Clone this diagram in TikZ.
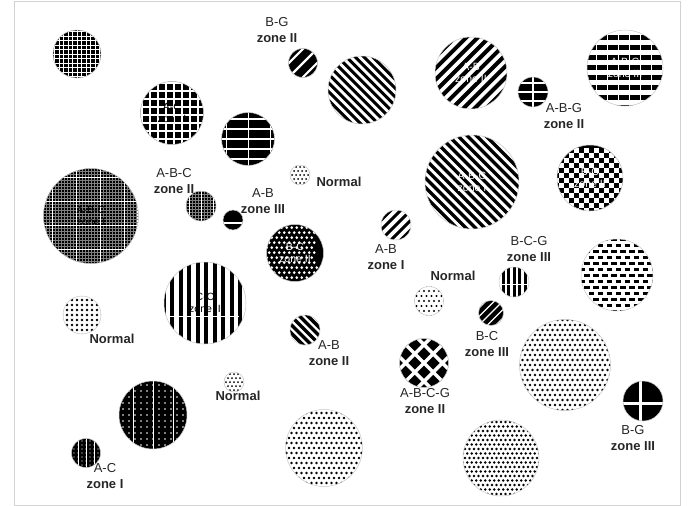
\documentclass[tikz,border=0pt]{standalone}
\usepackage{fontspec}
\setmainfont{Liberation Sans}
\newcommand\patfill[1]{\fill[#1] (-60,-60) rectangle (60,60);}
\newcommand\phor[3]{\foreach \k in {-25,...,25}{\draw[#3,line width=#2pt] (-70,{\k*#1}) -- (70,{\k*#1});}}
\newcommand\pver[3]{\foreach \k in {-25,...,25}{\draw[#3,line width=#2pt] ({\k*#1},-70) -- ({\k*#1},70);}}
\newcommand\pbsl[3]{\foreach \k in {-25,...,25}{\draw[#3,line width=#2pt] ({\k*#1*1.4142-70},-70) -- ({\k*#1*1.4142+70},70);}}
\newcommand\pfsl[3]{\foreach \k in {-25,...,25}{\draw[#3,line width=#2pt] ({\k*#1*1.4142-70},70) -- ({\k*#1*1.4142+70},-70);}}
\newcommand\patdots[5]{\foreach \a in {-#4,...,#4}{\foreach \b in {-#4,...,#4}{\fill[#3] ({(\a+#5*0.5*mod(\b,2))*#1},{\b*#1}) circle (#2pt);}}}
\newcommand\patcheck[2]{\foreach \a in {-#2,...,#2}{\foreach \b in {-#2,...,#2}{\fill[white] ({(2*\a+mod(\b,2))*#1},{\b*#1}) rectangle ++(#1,#1);}}}
\newcommand\patdash[4]{\foreach \b in {-7,...,7}{\draw[black,line width=#4pt,dash pattern=on #2pt off #3pt] (-60,{2*\b*#1}) -- (60,{2*\b*#1}); \draw[black,line width=#4pt,dash pattern=on #2pt off #3pt] ({-60+0.5*(#2+#3)},{(2*\b+1)*#1}) -- (60,{(2*\b+1)*#1});}}
\tikzset{
  disc/.style={circle, draw=gray!45, line width=0.5pt, inner sep=0pt, minimum size=#1pt, align=center, font=\fontsize{10.5}{12}\selectfont},
  pat/.style={path picture={\begin{scope}[shift={(path picture bounding box.center)}]#1\end{scope}}},
  lab/.style={align=center, inner sep=0pt, font=\fontsize{13}{16}\selectfont, text=black!85},
  wtxt/.style={text=white},
  frame/.style={draw=gray!35, line width=0.8pt}
}
\begin{document}
\begin{tikzpicture}[x=1pt,y=-1pt]
\useasboundingbox (0,0) rectangle (694,506);
\draw[frame] (14.5,1.5) rectangle (680.5,505);
% circles
\node[disc=48, pat={\patfill{black}\phor{4.5}{0.6}{white}\pver{4.5}{0.6}{white}}] (c1) at (77,54) {};
\node[disc=63, pat={\patfill{black}\phor{8}{2}{white}\pver{8}{2}{white}}] (c2) at (172,113) {A-C\\zone I};
\node[disc=53, pat={\patfill{black}\phor{10}{1.4}{white}\pver{22}{0.6}{white}}] (c3) at (248,139) {};
\node[disc=29, pat={\patfill{black}\pfsl{10}{2.2}{white}}] (c4) at (303,63) {};
\node[disc=68, pat={\patfill{white}\pbsl{6.2}{3}{black}}] (c5) at (362,90) {};
\node[disc=72, wtxt, pat={\patfill{white}\pfsl{8}{4}{black}}] (c6) at (471,73) {A-B\\zone II};
\node[disc=30, pat={\patfill{black}\phor{9}{1.2}{white}\pver{30}{1.2}{white}}] (c7) at (533,92) {};
\node[disc=76, wtxt, pat={\patfill{white}\phor{10}{5}{black}\pver{11}{0.8}{white}}] (c8) at (625,68) {A-B-C\\zone III};
\node[disc=94, wtxt, pat={\patfill{white}\pbsl{6.6}{3.4}{black}}] (c9) at (472,182) {A-B-C\\zone I};
\node[disc=66, wtxt, pat={\patfill{black}\patcheck{5}{8}}] (c10) at (590,178) {B-C\\zone II};
\node[disc=95, pat={\patfill{black}\phor{3}{0.4}{black!50}\pver{3}{0.4}{black!50}\phor{24}{0.9}{white}\pver{24}{0.9}{white}}] (c11) at (91,216) {A-B-C\\zone I};
\node[disc=30, pat={\patfill{black}\phor{3}{0.4}{black!50}\pver{3}{0.4}{black!50}\pver{12}{0.9}{white}}] (c12) at (201,206) {};
\node[disc=20, pat={\patfill{black}\draw[white,line width=2pt] (-20,3) -- (20,3);}] (c13) at (233,220) {};
\node[disc=20, pat={\patdots{4}{1}{black}{4}{1}}] (c14) at (300,175) {};
\node[disc=57, wtxt, pat={\patfill{black}\patdots{5}{1.4}{white}{7}{1}}] (c15) at (295,253) {B-C\\zone II};
\node[disc=30, pat={\patfill{white}\pfsl{7}{3}{black}}] (c16) at (396,225) {};
\node[disc=29, pat={\patdots{5}{1.2}{black}{4}{1}}] (c17) at (429,301) {};
\node[disc=82, pat={\patfill{white}\pver{8.5}{4}{black}\draw[white,line width=0.8pt] (-50,4) -- (50,4);}] (c18) at (205,303) {C-C\\zone II};
\node[disc=38, pat={\patdots{5}{1.3}{black}{5}{0}}] (c19) at (82,315) {};
\node[disc=30, pat={\patfill{white}\pver{5.5}{3}{black}\draw[white,line width=0.8pt] (-20,2) -- (20,2);}] (c20) at (514,282) {};
\node[disc=72, pat={\patdash{6}{5.5}{3.5}{3}}] (c21) at (617,275) {};
\node[disc=25, pat={\patfill{black}\pfsl{6}{1.2}{white}}] (c22) at (491,313) {};
\node[disc=30, pat={\patfill{white}\pbsl{6}{3.5}{black}}] (c23) at (305,330) {};
\node[disc=49, pat={\patfill{black}\pfsl{13}{3.4}{white}\pbsl{13}{3.4}{white}}] (c24) at (424,363) {};
\node[disc=20, pat={\patdots{4}{1}{black}{4}{1}}] (c25) at (234,382) {};
\node[disc=77, pat={\patdots{5}{1.45}{black}{9}{1}}] (c26) at (324,448) {};
\node[disc=91, pat={\patdots{5}{1.4}{black}{10}{1}}] (c27) at (565,365) {};
\node[disc=40, pat={\patfill{black}\draw[white,line width=3pt] (-3,-25) -- (-3,25); \draw[white,line width=3pt] (-25,2) -- (25,2);}] (c28) at (643,401) {};
\node[disc=76, pat={\patdots{4.5}{1.35}{black}{9}{1}}] (c29) at (501,458) {};
\node[disc=68, pat={\patfill{black}\patdots{6}{0.8}{white}{7}{0}\pver{20}{0.7}{white}}] (c30) at (153,415) {};
\node[disc=29, pat={\patfill{black}\patdots{4}{0.7}{white}{5}{0}\pver{8}{0.6}{white}}] (c31) at (86,453) {};
% labels
\node[lab] (l4) at (277,30) {B-G\\\textbf{zone II}};
\node[lab] (l7) at (564,116) {A-B-G\\\textbf{zone II}};
\node[lab] (l12) at (174,181) {A-B-C\\\textbf{zone II}};
\node[lab] (l13) at (263,201) {A-B\\\textbf{zone III}};
\node[lab] (l14) at (339,182) {\textbf{Normal}};
\node[lab] (l16) at (386,257) {A-B\\\textbf{zone I}};
\node[lab] (l17) at (453,276) {\textbf{Normal}};
\node[lab] (l20) at (529,249) {B-C-G\\\textbf{zone III}};
\node[lab] (l19) at (112,339) {\textbf{Normal}};
\node[lab] (l23) at (329,353) {A-B\\\textbf{zone II}};
\node[lab] (l22) at (487,344) {B-C\\\textbf{zone III}};
\node[lab] (l24) at (425,401) {A-B-C-G\\\textbf{zone II}};
\node[lab] (l25) at (238,396) {\textbf{Normal}};
\node[lab] (l28) at (633,438) {B-G\\\textbf{zone III}};
\node[lab] (l31) at (105,476) {A-C\\\textbf{zone I}};
\end{tikzpicture}
\end{document}
